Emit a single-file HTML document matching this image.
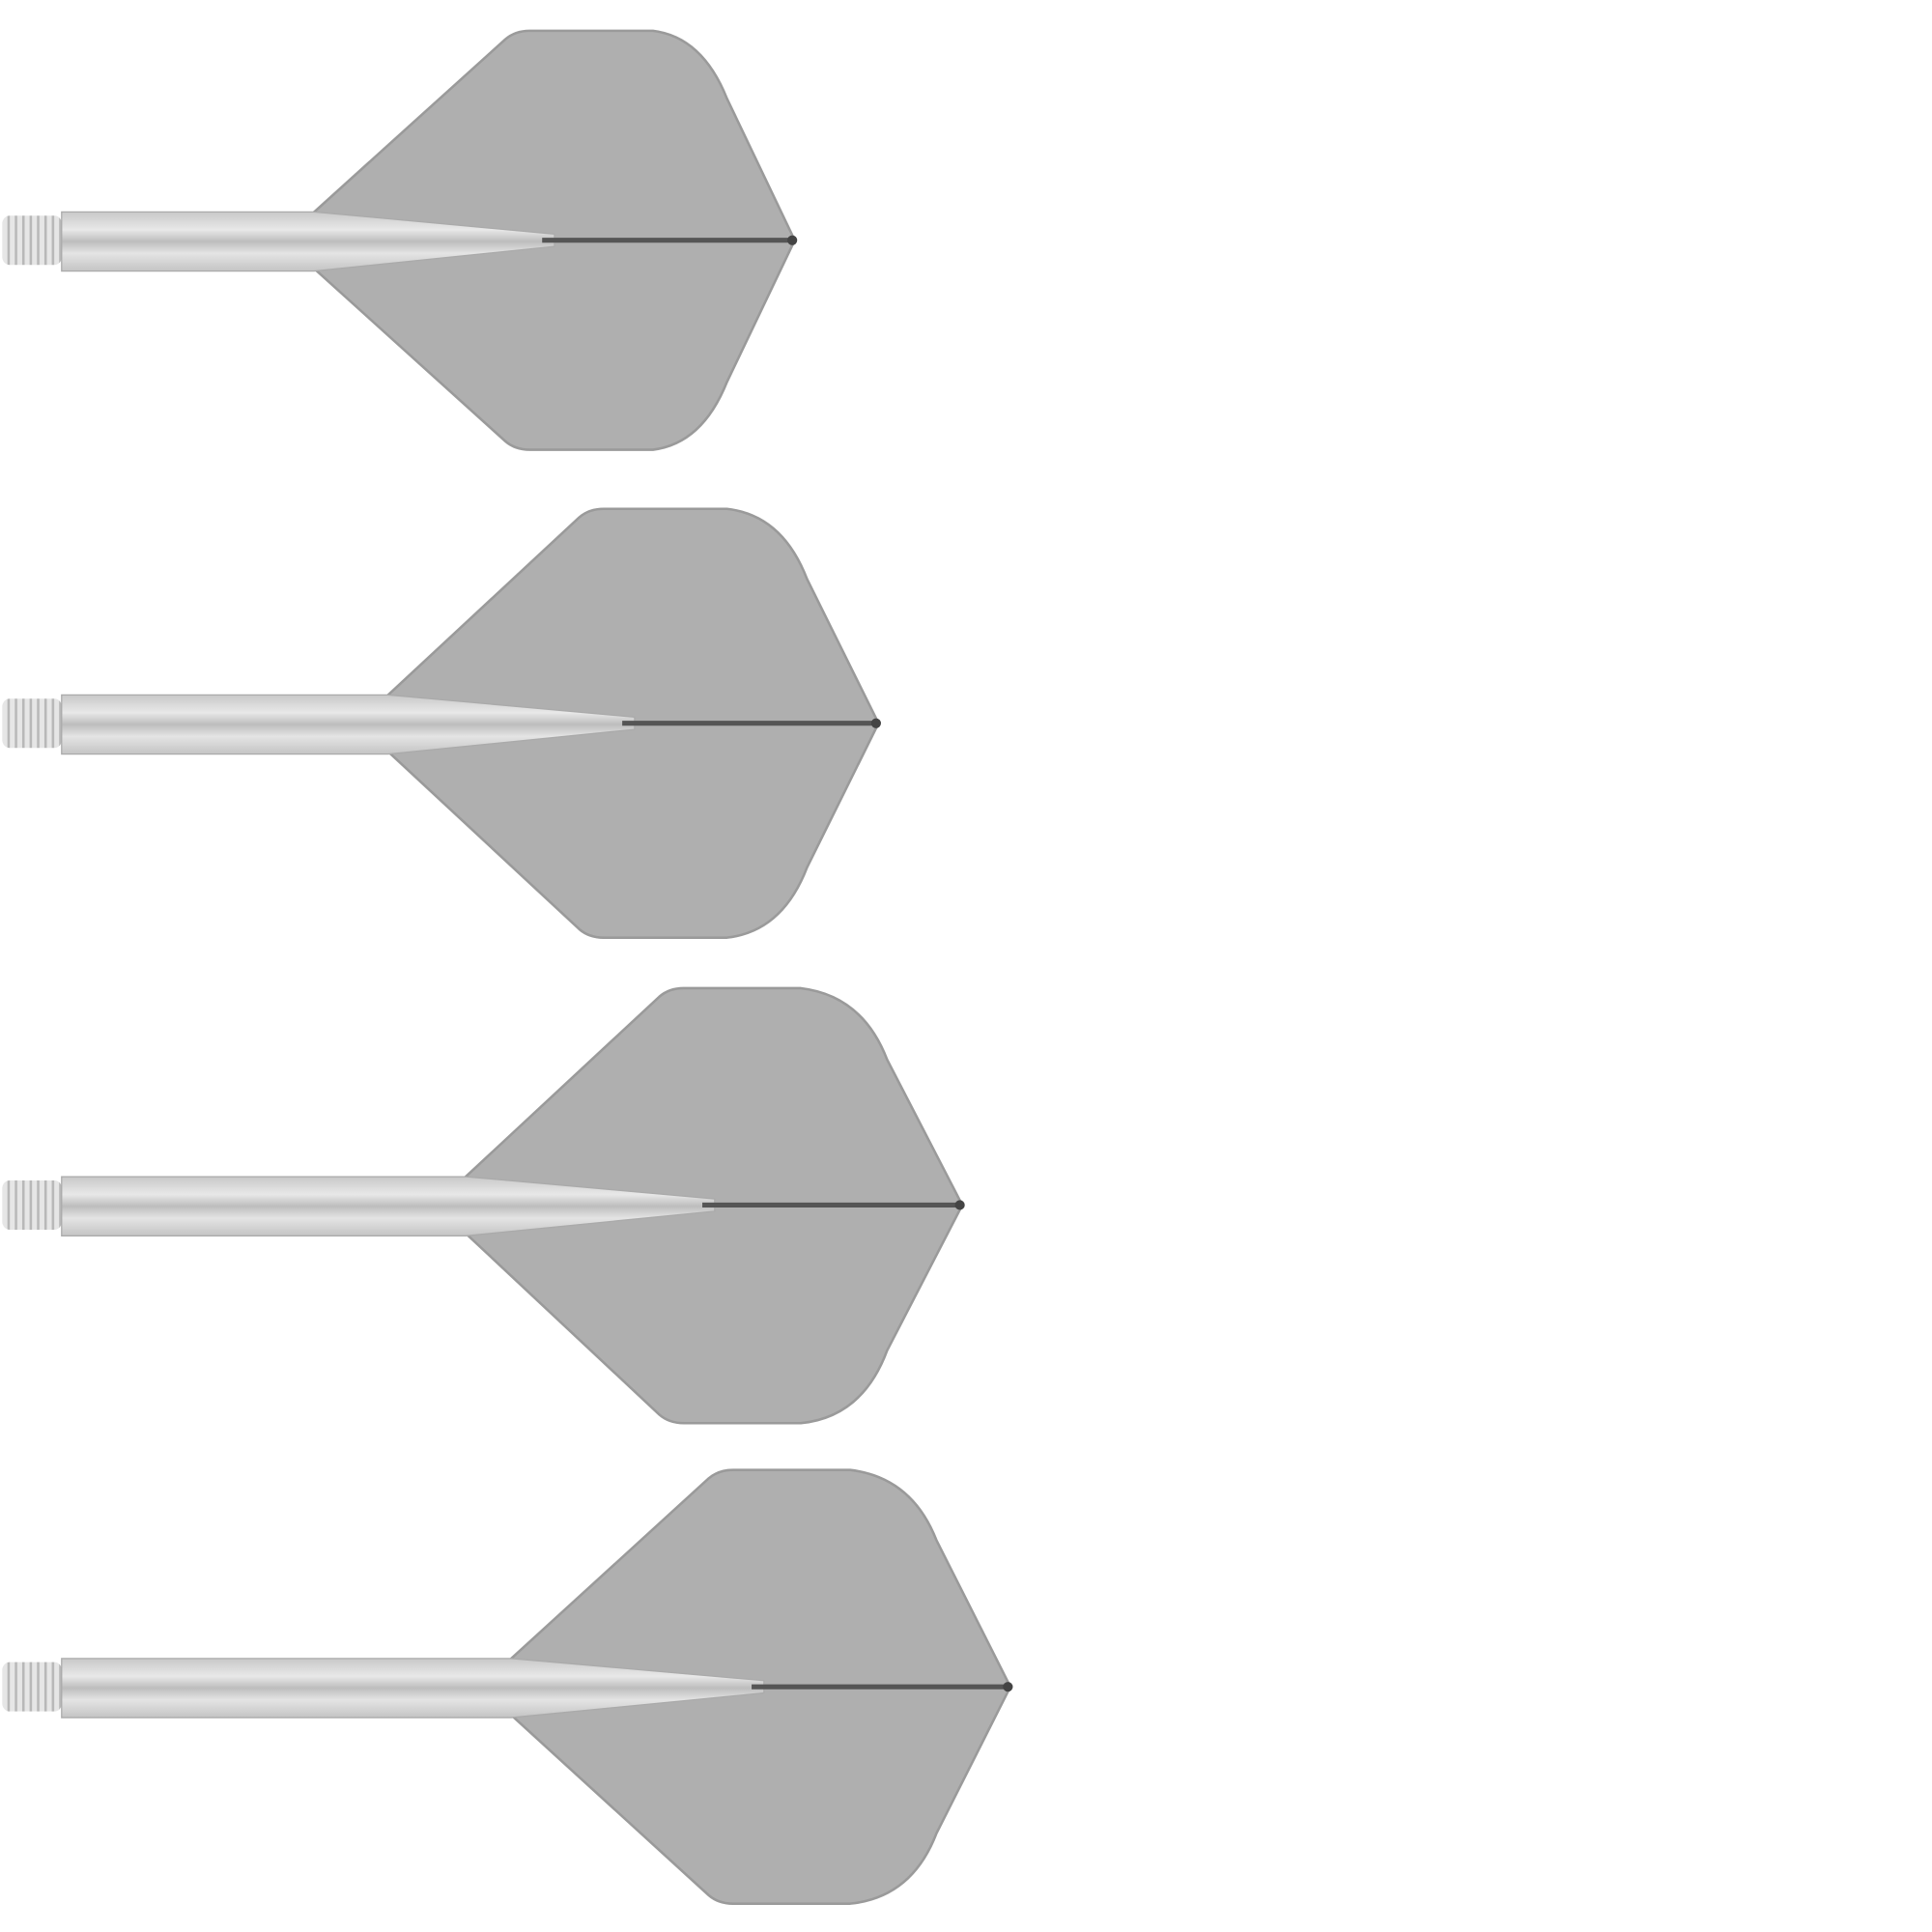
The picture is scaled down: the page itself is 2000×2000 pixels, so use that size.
<!DOCTYPE html>
<html><head><meta charset="utf-8"><style>html,body{margin:0;padding:0;background:#fff;}svg{display:block}</style></head>
<body>
<svg width="2000" height="2000" viewBox="0 0 1568 1568" xmlns="http://www.w3.org/2000/svg">
<defs>
<linearGradient id="sh" x1="0" y1="0" x2="0" y2="1">
<stop offset="0" stop-color="#c8c8c8"/><stop offset="0.3" stop-color="#e8e8e8"/><stop offset="0.5" stop-color="#bdbdbd"/><stop offset="0.7" stop-color="#e4e4e4"/><stop offset="1" stop-color="#c4c4c4"/>
</linearGradient>
<pattern id="th" width="6" height="40" patternUnits="userSpaceOnUse"><rect width="6" height="40" fill="#e6e6e6"/><rect width="2" height="40" fill="#b8b8b8"/></pattern>
</defs>
<g id="d">
</g>
<!-- dart 1 -->
<path d="M255,172 L410,32 Q418,25 430,25 L530,25 Q570,30 590,80 L645,195 L590,310 Q570,360 530,365 L430,365 Q418,365 410,358 L255,218 Z" fill="#afafaf" stroke="#9a9a9a" stroke-width="2"/>
<rect x="2" y="175" width="48" height="40" rx="6" fill="url(#th)"/>
<path d="M50,172 L255,172 L450,190 L450,200 L255,220 L50,220 Z" fill="url(#sh)" stroke="#aaa"/>
<path d="M440,195 L643,195" stroke="#555" stroke-width="4"/>
<circle cx="643" cy="195" r="4" fill="#444"/>
<!-- dart 2 -->
<path d="M315,564 L470,420 Q478,413 490,413 L590,413 Q635,418 655,470 L713,587 L655,704 Q635,756 590,761 L490,761 Q478,761 470,754 L315,610 Z" fill="#afafaf" stroke="#9a9a9a" stroke-width="2"/>
<rect x="2" y="567" width="48" height="40" rx="6" fill="url(#th)"/>
<path d="M50,564 L315,564 L515,582 L515,592 L315,612 L50,612 Z" fill="url(#sh)" stroke="#aaa"/>
<path d="M505,587 L711,587" stroke="#555" stroke-width="4"/>
<circle cx="711" cy="587" r="4" fill="#444"/>
<!-- dart 3 -->
<path d="M378,955 L535,809 Q543,802 555,802 L650,802 Q700,808 720,860 L781,978 L720,1096 Q700,1150 650,1155 L555,1155 Q543,1155 535,1148 L378,1001 Z" fill="#afafaf" stroke="#9a9a9a" stroke-width="2"/>
<rect x="2" y="958" width="48" height="40" rx="6" fill="url(#th)"/>
<path d="M50,955 L378,955 L580,973 L580,983 L378,1003 L50,1003 Z" fill="url(#sh)" stroke="#aaa"/>
<path d="M570,978 L779,978" stroke="#555" stroke-width="4"/>
<circle cx="779" cy="978" r="4" fill="#444"/>
<!-- dart 4 -->
<path d="M415,1346 L575,1200 Q583,1193 595,1193 L690,1193 Q740,1199 760,1250 L820,1369 L760,1488 Q740,1540 690,1545 L595,1545 Q583,1545 575,1538 L415,1392 Z" fill="#afafaf" stroke="#9a9a9a" stroke-width="2"/>
<rect x="2" y="1349" width="48" height="40" rx="6" fill="url(#th)"/>
<path d="M50,1346 L415,1346 L620,1364 L620,1374 L415,1394 L50,1394 Z" fill="url(#sh)" stroke="#aaa"/>
<path d="M610,1369 L818,1369" stroke="#555" stroke-width="4"/>
<circle cx="818" cy="1369" r="4" fill="#444"/>
</svg>
</body></html>
